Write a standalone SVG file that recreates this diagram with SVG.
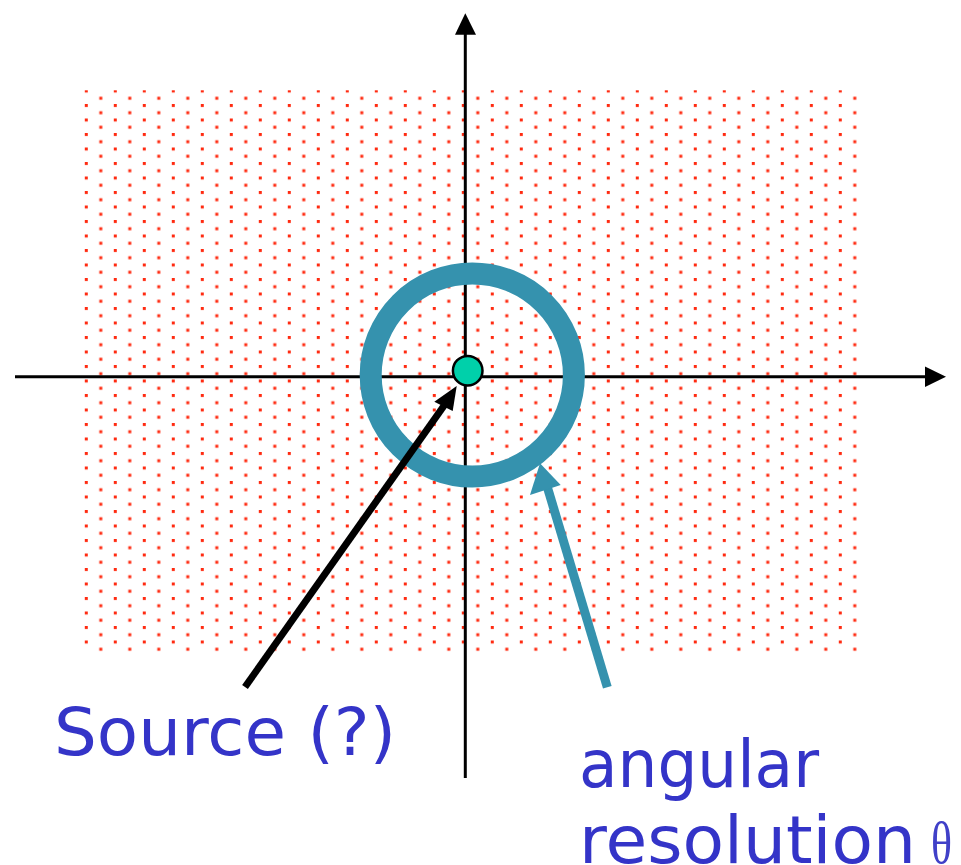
<svg xmlns="http://www.w3.org/2000/svg" width="961" height="865" viewBox="0 0 961 865">
  <style>
    .axis { stroke: #000; stroke-width: 3; fill: none; }
    .lbl { font-family: "DejaVu Sans", Verdana, sans-serif; font-size: 65px; fill: #3434c8; }
    .greek { font-family: "Liberation Serif", "Times New Roman", serif; font-size: 60px; fill: #4040c8; }
  </style>
  <defs>
    <pattern id="dots" patternUnits="userSpaceOnUse" x="84.8" y="89.5" width="29" height="14.5">
      <rect x="0" y="0" width="3" height="3" fill="#ff2a10"/>
      <rect x="14.5" y="7.25" width="3" height="3" fill="#ff2a10"/>
    </pattern>
  </defs>

  <g id="field">
    <rect x="84" y="90.3" width="774" height="563.2" fill="url(#dots)"/>
  </g>

  <g id="axes">
    <line class="axis" x1="15" y1="376.7" x2="927" y2="376.7"/>
    <polygon points="925,366.5 946,376.7 925,387" fill="#000"/>
    <line class="axis" x1="465.3" y1="778" x2="465.3" y2="32"/>
    <polygon points="455,34.7 465.3,13.3 476,34.7" fill="#000"/>
  </g>

  <g id="resolution-ring">
    <circle cx="472.3" cy="375" r="101.6" fill="none" stroke="#3592ae" stroke-width="22"/>
  </g>

  <g id="connectors">
    <line x1="245" y1="687" x2="444.5" y2="404.9" stroke="#000" stroke-width="7"/>
    <polygon points="456.7,386 434.3,401.7 452.7,411" fill="#000"/>
    <line x1="607.3" y1="687.3" x2="547" y2="486" stroke="#3592ae" stroke-width="9"/>
    <polygon points="540,463.3 530,495 560.7,485" fill="#3592ae"/>
  </g>

  <g id="source">
    <circle cx="467.7" cy="370.7" r="14.8" fill="#00d0aa" stroke="#000" stroke-width="2.5"/>
  </g>

  <g id="source-label">
    <text class="lbl" x="54" y="755" textLength="342" lengthAdjust="spacingAndGlyphs">Source (?)</text>
  </g>

  <g id="angular-label">
    <text class="lbl" x="579" y="786.7" textLength="240" lengthAdjust="spacingAndGlyphs">angular</text>
    <text class="lbl" x="579" y="863.4" textLength="337" lengthAdjust="spacingAndGlyphs">resolution</text>
    <text class="greek" x="931" y="863.4" textLength="21" lengthAdjust="spacingAndGlyphs">θ</text>
  </g>
</svg>
